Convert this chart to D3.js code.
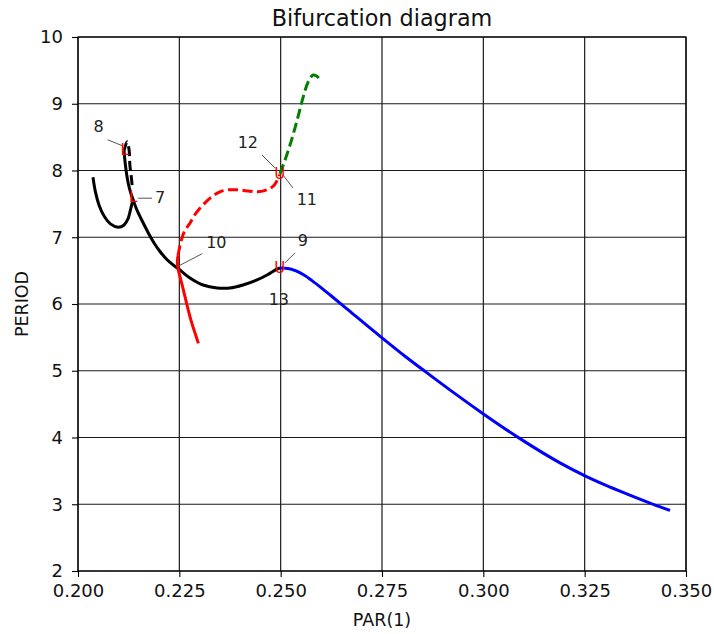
<!DOCTYPE html>
<html>
<head>
<meta charset="utf-8">
<script src="https://cdn.jsdelivr.net/npm/d3@7"></script>
<style>
  html, body { margin: 0; padding: 0; background: #fff; }
  svg { display: block; font-family: "DejaVu Sans", sans-serif; }
</style>
</head>
<body>
<svg id="chart" width="714" height="634"></svg>
<script>
// ---- data ----
const xTicks = [0.200, 0.225, 0.250, 0.275, 0.300, 0.325, 0.350];
const yTicks = [2, 3, 4, 5, 6, 7, 8, 9, 10];

// black branch, left "U" part (stable)
const blackU_x = [0.2037, 0.2043, 0.2052, 0.2065, 0.2080, 0.2099, 0.2113, 0.2123, 0.2129, 0.2133, 0.21357];
const blackU_y = [7.90, 7.68, 7.48, 7.31, 7.20, 7.15, 7.18, 7.27, 7.40, 7.50, 7.566];

// black branch, main part (stable) from label 8 through 7 and 10 to label 9
const blackMain_x = [0.21135, 0.21164, 0.21199, 0.21243, 0.21298, 0.21357, 0.21419, 0.21480, 0.21554, 0.21653, 0.21776, 0.21900, 0.22023, 0.22146, 0.22270, 0.22467, 0.22763, 0.23084, 0.23429, 0.2375, 0.2407, 0.24416, 0.24663, 0.24910, 0.24984];
const blackMain_y = [8.292, 8.112, 7.948, 7.798, 7.670, 7.566, 7.461, 7.371, 7.281, 7.161, 7.019, 6.891, 6.787, 6.697, 6.622, 6.532, 6.39, 6.285, 6.24, 6.24, 6.285, 6.36, 6.434, 6.524, 6.54];

// black branch, unstable short piece near label 8
const blackDash_x = [0.21135, 0.2121, 0.2126, 0.2128, 0.2131, 0.2134];
const blackDash_y = [8.292, 8.43, 8.31, 8.08, 7.93, 7.75];

// red branch, stable part
const redSolid_x = [0.2297, 0.2289, 0.2281, 0.2272, 0.2264, 0.2255, 0.2248, 0.2245, 0.2247];
const redSolid_y = [5.41, 5.56, 5.71, 5.91, 6.11, 6.33, 6.50, 6.62, 6.73];

// red branch, unstable part
const redDash_x = [0.2247, 0.2253, 0.2262, 0.2276, 0.2291, 0.2311, 0.2331, 0.2350, 0.2370, 0.2392, 0.2424, 0.2444, 0.2466, 0.2484, 0.2498];
const redDash_y = [6.73, 6.91, 7.08, 7.21, 7.36, 7.50, 7.61, 7.68, 7.71, 7.71, 7.69, 7.68, 7.71, 7.78, 7.94];

// green branch (unstable)
const green_x = [0.2498, 0.2511, 0.2527, 0.2543, 0.2556, 0.2568, 0.2580, 0.2590, 0.2597];
const green_y = [7.95, 8.16, 8.46, 8.81, 9.11, 9.33, 9.43, 9.41, 9.35];

// blue branch (stable)
const blue_x = [0.24984, 0.25181, 0.25378, 0.25576, 0.25773, 0.26020, 0.26340, 0.26711, 0.27493, 0.28068, 0.28603, 0.29301, 0.29984, 0.30905, 0.31891, 0.32508, 0.33001, 0.33537, 0.34112, 0.34605];
const blue_y = [6.539, 6.533, 6.497, 6.434, 6.350, 6.234, 6.075, 5.889, 5.497, 5.218, 4.972, 4.657, 4.361, 3.983, 3.620, 3.426, 3.290, 3.155, 3.017, 2.906];

// special points: marker symbol, label, location
const ptLabel  = ["8", "7", "9", "10", "11", "12", "13"];
const ptSymbol = ["L", "L", "U", "", "U", "", ""];
const ptX = [0.2115, 0.2136, 0.2498, 0.2245, 0.2498, 0.2498, 0.2498];
const ptY = [8.31, 7.60, 6.54, 6.56, 7.95, 7.95, 6.54];

// ---- layout ----
const svg = d3.select("#chart");
const margin = {left: 78, top: 37, right: 714 - 686, bottom: 634 - 571};
const W = 714 - margin.left - margin.right;
const H = 634 - margin.top - margin.bottom;

const x = d3.scaleLinear().domain([0.2, 0.35]).range([0, W]);
const y = d3.scaleLinear().domain([2, 10]).range([H, 0]);

const g = svg.append("g").attr("transform", `translate(${margin.left},${margin.top})`);

// grid
g.append("g").selectAll("line").data(xTicks).join("line")
  .attr("x1", d => x(d)).attr("x2", d => x(d)).attr("y1", 0).attr("y2", H)
  .attr("stroke", "#1a1a1a").attr("stroke-width", 1.2);
g.append("g").selectAll("line").data(yTicks).join("line")
  .attr("y1", d => y(d)).attr("y2", d => y(d)).attr("x1", 0).attr("x2", W)
  .attr("stroke", "#1a1a1a").attr("stroke-width", 1.2);

// axes
const xAxis = d3.axisBottom(x).tickValues(xTicks).tickFormat(d3.format(".3f")).tickSize(6).tickPadding(7);
const yAxis = d3.axisLeft(y).tickValues(yTicks).tickFormat(d3.format("d")).tickSize(6).tickPadding(9);
const gx = g.append("g").attr("transform", `translate(0,${H})`).call(xAxis);
const gy = g.append("g").call(yAxis);
[gx, gy].forEach(a => {
  a.select(".domain").remove();
  a.selectAll(".tick line").attr("stroke", "#000").attr("stroke-width", 1.1);
  a.selectAll(".tick text").attr("fill", "#111").style("font-size", "18px").style("font-family", "DejaVu Sans");
});

// frame
g.append("rect").attr("x", 0).attr("y", 0).attr("width", W).attr("height", H)
  .attr("fill", "none").attr("stroke", "#000").attr("stroke-width", 1.2);

// curves
const lineCR = d3.line().x(d => x(d[0])).y(d => y(d[1])).curve(d3.curveCatmullRom.alpha(0.5));
const lineMono = d3.line().x(d => x(d[0])).y(d => y(d[1])).curve(d3.curveMonotoneX);
const zip = (a, b) => a.map((v, i) => [v, b[i]]);
const dash = "10,4.5";
const branches = [
  {xs: blackU_x, ys: blackU_y, color: "#000", dash: null, gen: lineCR},
  {xs: blackMain_x, ys: blackMain_y, color: "#000", dash: null, gen: lineCR},
  {xs: blackDash_x, ys: blackDash_y, color: "#000", dash: dash, gen: lineCR},
  {xs: redSolid_x, ys: redSolid_y, color: "#ff0000", dash: null, gen: lineCR},
  {xs: redDash_x, ys: redDash_y, color: "#ff0000", dash: dash, gen: lineCR},
  {xs: green_x, ys: green_y, color: "#008000", dash: dash, gen: lineCR},
  {xs: blue_x, ys: blue_y, color: "#0000ff", dash: null, gen: lineMono}
];
g.append("g").selectAll("path").data(branches).join("path")
  .attr("d", b => b.gen(zip(b.xs, b.ys)))
  .attr("fill", "none")
  .attr("stroke", b => b.color)
  .attr("stroke-width", 3)
  .attr("stroke-dasharray", b => b.dash)
  .attr("stroke-linecap", "butt");

// label placement (pixel offsets of label text and leader line from the point)
const labOff = {
  "8":  {tx: -26, ty: -23, l: [-2, -4, -17, -10]},
  "7":  {tx: 27, ty: 0, l: [5, 1, 19, 1]},
  "9":  {tx: 23, ty: -27, l: [5, -5, 15, -15]},
  "10": {tx: 39, ty: -24, l: [0, 0, 25, -13]},
  "11": {tx: 27, ty: 26, l: [3, 1, 13, 14]},
  "12": {tx: -32, ty: -31, l: [-18, -19, -5, -6]},
  "13": {tx: -1, ty: 32, l: null}
};
const pts = ptLabel.map((t, i) => ({t, s: ptSymbol[i], px: x(ptX[i]), py: y(ptY[i])}));
const lg = g.append("g");
pts.forEach(p => {
  const o = labOff[p.t];
  if (o.l) {
    lg.append("line")
      .attr("x1", p.px + o.l[0]).attr("y1", p.py + o.l[1])
      .attr("x2", p.px + o.l[2]).attr("y2", p.py + o.l[3])
      .attr("stroke", "#555").attr("stroke-width", 1);
  }
  lg.append("text").attr("x", p.px + o.tx).attr("y", p.py + o.ty)
    .attr("text-anchor", "middle").attr("dominant-baseline", "central")
    .style("font-size", "16px").attr("fill", "#222").text(p.t);
  if (p.s) {
    lg.append("text").attr("x", p.px).attr("y", p.py)
      .attr("text-anchor", "middle").attr("dominant-baseline", "central")
      .style("font-size", "15px").attr("fill", "#ff0000").text(p.s);
  }
});

// titles
svg.append("text").attr("x", margin.left + W / 2).attr("y", 26)
  .attr("text-anchor", "middle").style("font-size", "22.3px").attr("fill", "#111")
  .text("Bifurcation diagram");
svg.append("text").attr("x", margin.left + W / 2).attr("y", 626)
  .attr("text-anchor", "middle").style("font-size", "17.5px").attr("fill", "#111")
  .text("PAR(1)");
svg.append("text").attr("transform", `translate(28,${margin.top + H / 2}) rotate(-90)`)
  .attr("text-anchor", "middle").style("font-size", "17.5px").attr("fill", "#111")
  .text("PERIOD");
</script>
</body>
</html>
